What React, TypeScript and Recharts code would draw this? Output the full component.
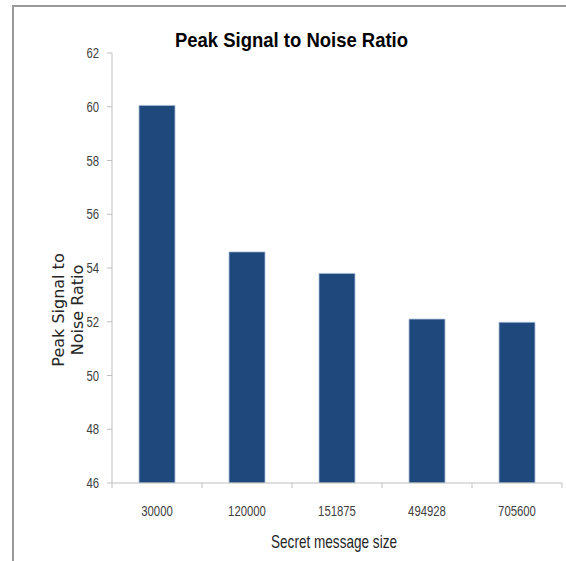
import React from "react";
import { BarChart, Bar, XAxis, YAxis } from "recharts";

const categories = ["30000", "120000", "151875", "494928", "705600"];
const psnrValues = [60.05, 54.6, 53.8, 52.1, 51.98];
const yTicks = [46, 48, 50, 52, 54, 56, 58, 60, 62];

const data = categories.map((c, i) => ({ size: c, psnr: psnrValues[i] }));

const SANS = "'Liberation Sans', Arial, sans-serif";
const DIGIT_W = 6.3;
const TICK_SIZE = 5;
const TICK_MARGIN = 23;

const XTick = (props: any) => {
  const { x, y, payload, width, visibleTicksCount, index } = props;
  const band = width / visibleTicksCount;
  const axisY = y - TICK_SIZE - TICK_MARGIN;
  const left = x - band / 2;
  const right = x + band / 2;
  const label = String(payload.value);
  return (
    <g>
      <line x1={left} x2={left} y1={axisY} y2={axisY + TICK_SIZE} stroke="#BFBFBF" />
      {index === visibleTicksCount - 1 && (
        <line x1={right} x2={right} y1={axisY} y2={axisY + TICK_SIZE} stroke="#BFBFBF" />
      )}
      <text
        x={x}
        y={y}
        dy={5}
        textAnchor="middle"
        fontFamily={SANS}
        fontSize={15}
        fill="#404040"
        textLength={label.length * DIGIT_W}
        lengthAdjust="spacingAndGlyphs"
      >
        {label}
      </text>
    </g>
  );
};

const YTick = (props: any) => {
  const { x, y, payload } = props;
  const label = String(payload.value);
  return (
    <text
      x={x}
      y={y}
      dy={5}
      textAnchor="end"
      fontFamily={SANS}
      fontSize={15}
      fill="#404040"
      textLength={label.length * DIGIT_W}
      lengthAdjust="spacingAndGlyphs"
    >
      {label}
    </text>
  );
};

const YLabel = () => (
  <text
    transform="rotate(-90 69 310)"
    textAnchor="middle"
    fontFamily="'DejaVu Sans', sans-serif"
    fontSize={16}
    fill="#262626"
  >
    <tspan x={69} y={305}>Peak Signal to</tspan>
    <tspan x={69} y={324}>Noise Ratio</tspan>
  </text>
);

const XLabel = () => (
  <text
    x={334}
    y={548}
    textAnchor="middle"
    fontFamily={SANS}
    fontSize={18.5}
    fill="#262626"
    textLength={126}
    lengthAdjust="spacingAndGlyphs"
  >
    Secret message size
  </text>
);

export default function App() {
  return (
    <div style={{ position: "absolute", left: 0, top: 0, width: 566, height: 561, background: "#fff" }}>
      <div
        style={{
          position: "absolute",
          left: 12,
          top: 5,
          width: 554,
          height: 556,
          borderTop: "2px solid #9A9A9A",
          borderLeft: "2px solid #9A9A9A",
          boxSizing: "border-box",
        }}
      />
      <svg style={{ position: "absolute", left: 0, top: 0 }} width={566} height={60}>
        <text
          x={291.5}
          y={46.5}
          textAnchor="middle"
          fontFamily={SANS}
          fontWeight="bold"
          fontSize={21}
          fill="#000"
          textLength={233}
          lengthAdjust="spacingAndGlyphs"
        >
          Peak Signal to Noise Ratio
        </text>
      </svg>
      <div style={{ position: "absolute", left: 0, top: 0 }}>
        <BarChart
          width={566}
          height={561}
          data={data}
          margin={{ top: 53, right: 4, left: 0, bottom: 0 }}
          barCategoryGap="30%"
        >
          <XAxis
            dataKey="size"
            height={78}
            axisLine={{ stroke: "#BFBFBF" }}
            tickLine={false}
            tickSize={TICK_SIZE}
            tickMargin={TICK_MARGIN}
            interval={0}
            tick={<XTick />}
            label={<XLabel />}
          />
          <YAxis
            width={112}
            domain={[46, 62]}
            ticks={yTicks}
            interval={0}
            allowDataOverflow
            axisLine={{ stroke: "#BFBFBF" }}
            tickLine={{ stroke: "#BFBFBF" }}
            tickSize={TICK_SIZE}
            tickMargin={8}
            tick={<YTick />}
            label={<YLabel />}
          />
          <Bar dataKey="psnr" fill="#1F497D" stroke="#A9BEDA" strokeWidth={0.8} isAnimationActive={false} />
        </BarChart>
      </div>
    </div>
  );
}
